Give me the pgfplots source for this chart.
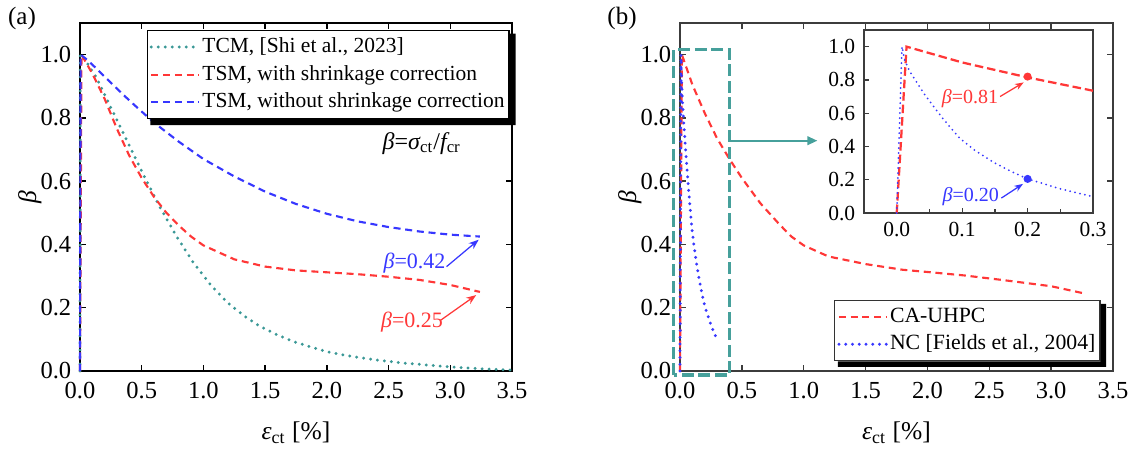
\documentclass[border=0pt]{standalone}
\usepackage{fontspec}
\setmainfont{Liberation Serif}
\usepackage{pgfplots}
\pgfplotsset{compat=1.18}
\usetikzlibrary{arrows.meta}

\definecolor{tealc}{RGB}{58,152,150}
\definecolor{redc}{RGB}{255,55,55}
\definecolor{bluec}{RGB}{55,55,255}
\definecolor{boxc}{RGB}{70,160,155}
\definecolor{framec}{RGB}{60,60,60}

\pgfplotsset{
  mainax/.style={
    scale only axis, height=139.2pt,
    xmin=0, xmax=3.5, ymin=0, ymax=1.1,
    xtick={0,0.5,1,1.5,2,2.5,3,3.5},
    ytick={0,0.2,0.4,0.6,0.8,1.0},
    tick align=inside, major tick length=2.5pt,
    every tick/.style={line width=0.6pt},
    axis line style={line width=0.6pt},
    /pgf/number format/assume math mode=true,
    /pgf/number format/fixed,
    /pgf/number format/fixed zerofill,
    /pgf/number format/precision=1,
    ticklabel style={font=\fontsize{9.8}{11}\selectfont},
    xticklabel style={yshift=-1pt},
    xlabel={{\itshape ε}\textsubscript{ct} [\%]},
    ylabel={{\itshape β}},
    label style={font=\fontsize{10.2}{12}\selectfont},
    xlabel style={at={(axis description cs:0.5,-0.178)}, anchor=center},
    ylabel style={at={(axis description cs:-0.116,0.5)}, anchor=center},
    legend image code/.code={\draw[##1] (0pt,0pt) -- (19pt,0pt);},
    legend cell align=left,
    clip=false,
  },
  tcm/.style={color=tealc, line width=1.3pt, line cap=round, dash pattern=on 0pt off 2.8pt},
  rdash/.style={color=redc, line width=0.85pt, dash pattern=on 2.8pt off 1.9pt},
  bdash/.style={color=bluec, line width=0.85pt, dash pattern=on 2.8pt off 1.9pt},
  bdot/.style={color=bluec, line width=1.3pt, line cap=round, dash pattern=on 0pt off 2.7pt},
}

\begin{document}
\begin{tikzpicture}
\useasboundingbox (0,0) rectangle (454pt,180pt);

\node[font=\fontsize{10}{12}\selectfont] at (8.8pt,172.8pt) {(a)};
\node[font=\fontsize{10}{12}\selectfont] at (248.8pt,172.8pt) {(b)};

% ---------------- Panel (a)
\begin{axis}[mainax, at={(32pt,31.6pt)}, anchor=south west, width=172.8pt,
  legend style={name=legA, at={(axis description cs:0.154,0.98)}, anchor=north west,
    draw=black, line width=0.5pt, fill=white,
    font=\fontsize{8.6}{10}\selectfont, inner xsep=1pt, inner ysep=1pt, row sep=0pt,
    nodes={inner xsep=0.8pt, inner ysep=1.8pt}},
]
\addplot[tcm] coordinates {
(0,0) (0.003,1.0) (0.015,1.0) (0.135,0.926) (0.243,0.838) (0.351,0.752)
(0.45,0.672) (0.54,0.600) (0.648,0.518) (0.783,0.425) (0.918,0.343)
(1.05,0.276) (1.19,0.218) (1.33,0.174) (1.46,0.141) (1.6,0.114)
(1.73,0.093) (1.87,0.076) (2.0,0.061) (2.2,0.046) (2.4,0.035)
(2.6,0.026) (2.81,0.019) (3.0,0.013) (3.25,0.007) (3.5,0.003)};
\addlegendentry{TCM, [Shi et al., 2023]}
\addplot[rdash] coordinates {
(0,0) (0.012,1.0) (0.1,0.94) (0.2,0.86) (0.3,0.765) (0.4,0.68) (0.5,0.61)
(0.6,0.55) (0.7,0.50) (0.8,0.46) (0.9,0.425) (1.0,0.397) (1.25,0.353)
(1.5,0.33) (1.75,0.318) (2.0,0.312) (2.25,0.306) (2.5,0.298) (2.75,0.288)
(3.0,0.272) (3.24,0.25)};
\addlegendentry{TSM, with shrinkage correction}
\addplot[bdash] coordinates {
(0,0) (0.005,1.0) (0.07,0.98) (0.2,0.93) (0.4,0.855) (0.6,0.785) (0.8,0.725)
(1.0,0.67) (1.25,0.615) (1.5,0.567) (1.75,0.528) (2.0,0.497) (2.25,0.473)
(2.5,0.455) (2.75,0.441) (3.0,0.431) (3.24,0.425)};
\addlegendentry{TSM, without shrinkage correction}

\node[font=\fontsize{9.6}{11}\selectfont] at (axis cs:2.77,0.72)
  {{\itshape β}={\itshape σ}\textsubscript{ct}/{\itshape f}\textsubscript{cr}};
\node[font=\fontsize{8.8}{10}\selectfont, text=bluec] at (axis cs:2.71,0.34) {{\itshape β}=0.42};
\draw[bluec, line width=0.5pt, -{Stealth[length=4pt,width=3pt]}] (axis cs:2.97,0.33) -- (axis cs:3.23,0.415);
\node[font=\fontsize{8.8}{10}\selectfont, text=redc] at (axis cs:2.69,0.156) {{\itshape β}=0.25};
\draw[redc, line width=0.5pt, -{Stealth[length=4pt,width=3pt]}] (axis cs:2.92,0.16) -- (axis cs:3.21,0.24);
\end{axis}
\fill[black] ([yshift=-1.5pt]legA.north east) -- ++(2.4pt,0pt)
  |- ([xshift=1.5pt,yshift=-2.4pt]legA.south west) -- ++(0pt,2.4pt) -| cycle;

% ---------------- Panel (b)
\begin{axis}[mainax, at={(272pt,31.6pt)}, anchor=south west, width=173.2pt,
  axis line style={line width=0.6pt, draw=framec},
  every tick/.style={line width=0.6pt, framec},
  legend style={name=legB, at={(axis description cs:0.356,0.204)}, anchor=north west,
    draw=black!80, line width=0.5pt, fill=white,
    font=\fontsize{8.7}{10}\selectfont, inner xsep=1pt, inner ysep=1pt, row sep=0pt,
    nodes={inner xsep=0.8pt, inner ysep=1.8pt}},
]
\addplot[rdash] coordinates {
(0,0) (0.015,1.0) (0.1,0.905) (0.2,0.815) (0.3,0.735) (0.4,0.67) (0.5,0.61)
(0.65,0.53) (0.8,0.465) (0.9,0.425) (1.0,0.397) (1.2,0.362) (1.5,0.338)
(1.8,0.32) (2.0,0.313) (2.3,0.302) (2.6,0.288) (3.0,0.268) (3.27,0.245)};
\addlegendentry{CA-UHPC}
\addplot[bdot] coordinates {
(0,0) (0.008,1.0) (0.012,0.92) (0.02,0.85) (0.043,0.71) (0.07,0.57)
(0.096,0.45) (0.12,0.375) (0.15,0.30) (0.175,0.25) (0.2,0.205)
(0.25,0.145) (0.3,0.098)};
\addlegendentry{NC [Fields et al., 2004]}

\draw[boxc, line width=1.3pt, dash pattern=on 4.8pt off 1.8pt]
  (axis cs:-0.05,-0.013) rectangle (axis cs:0.4,1.016);
\draw[boxc, line width=0.7pt, -{Triangle[length=4pt,width=3.5pt]}]
  (axis cs:0.4,0.728) -- (axis cs:1.11,0.728);
\end{axis}
\fill[black] ([yshift=-1.5pt]legB.north east) -- ++(2.2pt,0pt)
  |- ([xshift=1.5pt,yshift=-2.2pt]legB.south west) -- ++(0pt,2.2pt) -| cycle;

% ---------------- Inset
\begin{axis}[at={(345.6pt,94.8pt)}, anchor=south west, scale only axis,
  width=91.6pt, height=73.2pt,
  xmin=-0.05, xmax=0.3, ymin=0, ymax=1.1,
  xtick={0,0.1,0.2,0.3}, minor xtick={-0.05,0.05,0.15,0.25},
  ytick={0,0.2,0.4,0.6,0.8,1.0},
  xtick pos=left, ytick pos=left,
  tick align=inside, major tick length=2pt, minor tick length=1.5pt,
  axis line style={line width=0.5pt, draw=framec},
  every tick/.style={line width=0.5pt, framec},
  axis background/.style={fill=white},
  /pgf/number format/assume math mode=true,
  /pgf/number format/fixed,
  /pgf/number format/fixed zerofill,
  /pgf/number format/precision=1,
  ticklabel style={font=\fontsize{8.6}{10}\selectfont},
  clip=false,
]
\addplot[color=redc, line width=0.9pt, dash pattern=on 3.4pt off 1.6pt] coordinates {
(0,0) (0.015,1.0) (0.1,0.905) (0.2,0.815) (0.3,0.735)};
\addplot[color=bluec, line width=0.8pt, line cap=round, dash pattern=on 0pt off 2pt] coordinates {
(0,0) (0.008,1.0) (0.012,0.92) (0.02,0.85) (0.043,0.71) (0.07,0.57)
(0.096,0.45) (0.12,0.375) (0.15,0.30) (0.175,0.25) (0.2,0.205)
(0.25,0.145) (0.3,0.098)};
\addplot[only marks, mark=*, mark size=1.4pt, color=redc] coordinates {(0.2,0.82)};
\addplot[only marks, mark=*, mark size=1.4pt, color=bluec] coordinates {(0.2,0.205)};
\node[font=\fontsize{8}{10}\selectfont, text=redc] at (axis cs:0.112,0.69) {{\itshape β}=0.81};
\draw[redc, line width=0.5pt, -{Stealth[length=3.5pt,width=2.6pt]}] (axis cs:0.158,0.70) -- (axis cs:0.194,0.785);
\node[font=\fontsize{8}{10}\selectfont, text=bluec] at (axis cs:0.113,0.10) {{\itshape β}=0.20};
\draw[bluec, line width=0.5pt, -{Stealth[length=3.5pt,width=2.6pt]}] (axis cs:0.16,0.09) -- (axis cs:0.193,0.175);
\end{axis}
\end{tikzpicture}
\end{document}
